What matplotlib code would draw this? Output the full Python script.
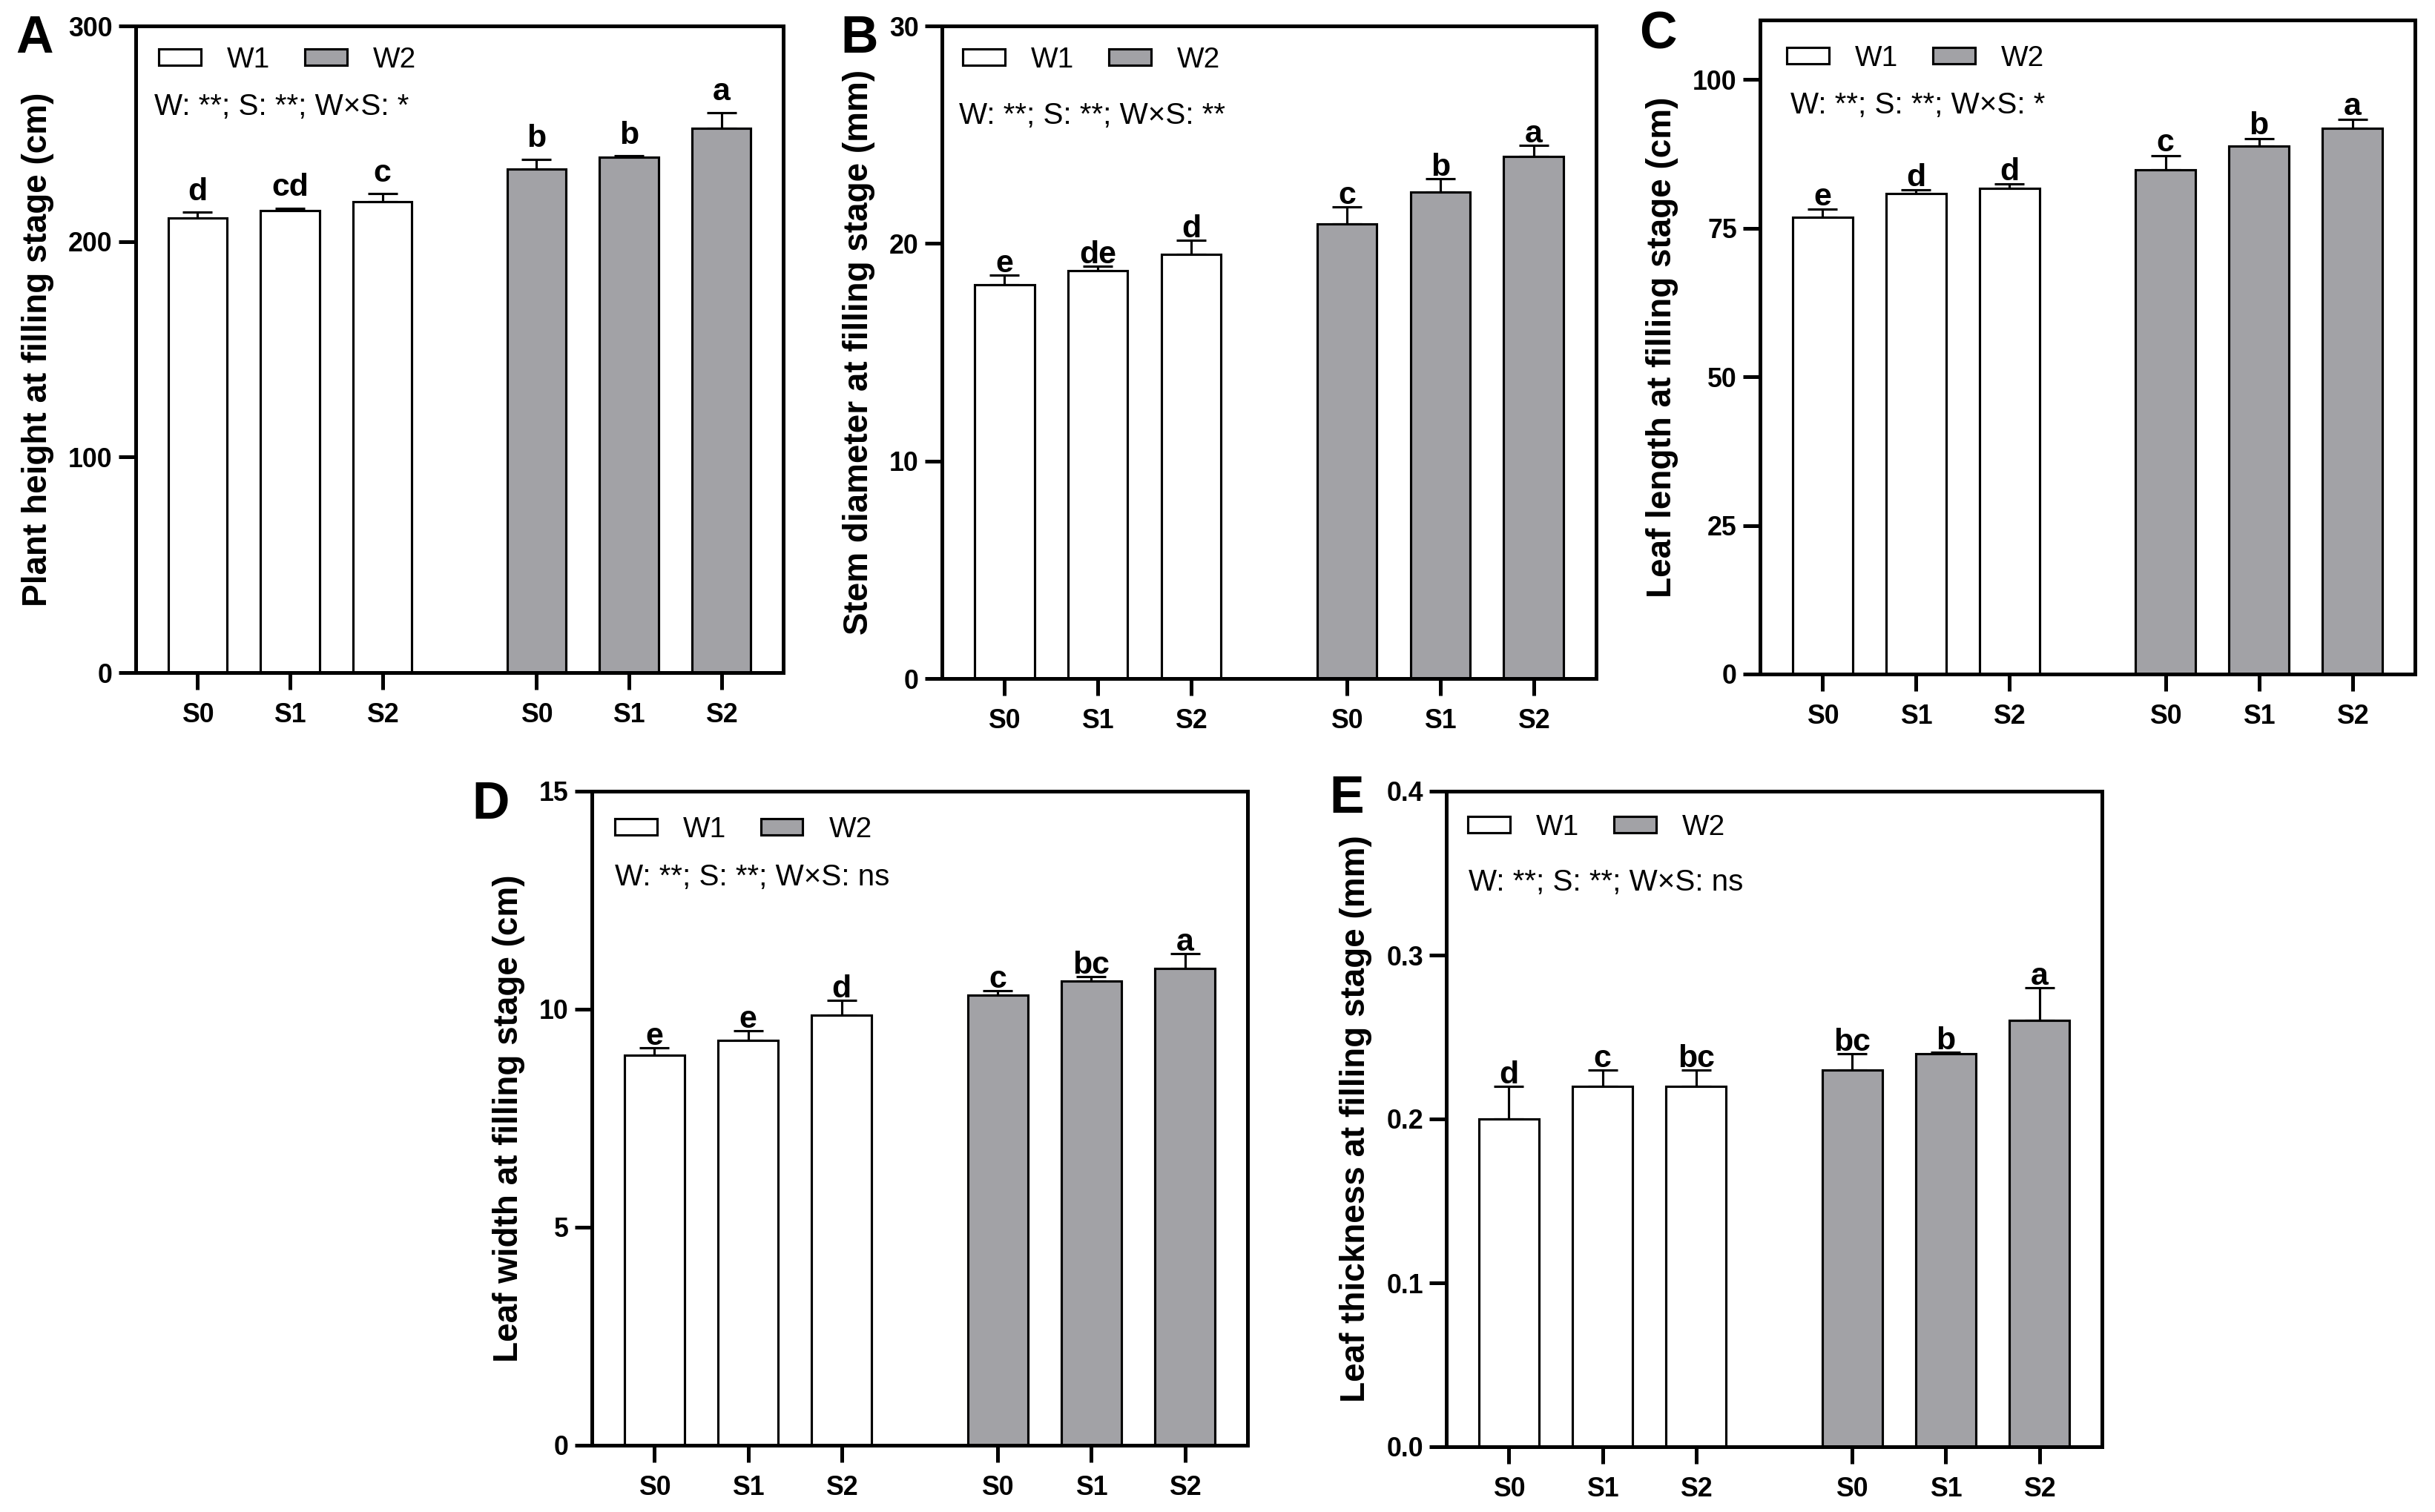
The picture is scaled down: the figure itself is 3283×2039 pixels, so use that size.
import matplotlib
matplotlib.use("Agg")
import matplotlib.pyplot as plt
from matplotlib.patches import Patch
from matplotlib.ticker import FormatStrFormatter

plt.rcParams['font.family'] = ['Liberation Sans', 'DejaVu Sans']

# ---- data ----
groups = ["S0", "S1", "S2", "S0", "S1", "S2"]

height_mean = [211, 214.3, 218.5, 233.7, 239.0, 252.6]
height_err = [2.6, 1.1, 3.7, 4.4, 0.7, 7.2]
height_sig = ["d", "cd", "c", "b", "b", "a"]

stem_mean = [18.1, 18.75, 19.5, 20.9, 22.35, 24.0]
stem_err = [0.45, 0.22, 0.65, 0.78, 0.63, 0.5]
stem_sig = ["e", "de", "d", "c", "b", "a"]

length_mean = [76.8, 80.8, 81.7, 84.8, 88.8, 91.8]
length_err = [1.35, 0.6, 0.7, 2.4, 1.25, 1.5]
length_sig = ["e", "d", "d", "c", "b", "a"]

width_mean = [8.95, 9.28, 9.86, 10.32, 10.64, 10.94]
width_err = [0.17, 0.22, 0.34, 0.11, 0.11, 0.33]
width_sig = ["e", "e", "d", "c", "bc", "a"]

thick_mean = [0.20, 0.22, 0.22, 0.23, 0.24, 0.26]
thick_err = [0.02, 0.01, 0.01, 0.01, 0.0005, 0.02]
thick_sig = ["d", "c", "bc", "bc", "b", "a"]

W, H = 3283, 2039
DPI = 300
gray = "#a2a2a6"
pos = [0, 1, 2, 3.67, 4.67, 5.67]
colors = ["white"] * 3 + [gray] * 3

fig = plt.figure(figsize=(W / DPI, H / DPI), dpi=DPI)


def add_ax(l, r, t, b):
    return fig.add_axes([l / W, 1 - b / H, (r - l) / W, (b - t) / H])


panels = [
    dict(box=(183, 1056, 35, 907), mean=height_mean, err=height_err, sig=height_sig,
         ylabel="Plant height at filling stage (cm)", ylim=(0, 300), yticks=[0, 100, 200, 300],
         stats="W: **; S: **; W×S: *", off=1.8, leg=(0.036, 0.968), txt=(0.029, 0.862)),
    dict(box=(1270, 2152, 35, 915), mean=stem_mean, err=stem_err, sig=stem_sig,
         ylabel="Stem diameter at filling stage (mm)", ylim=(0, 30), yticks=[0, 10, 20, 30],
         stats="W: **; S: **; W×S: **", off=-1.2, leg=(0.032, 0.968), txt=(0.026, 0.85)),
    dict(box=(2373, 3256, 27, 909), mean=length_mean, err=length_err, sig=length_sig,
         ylabel="Leaf length at filling stage (cm)", ylim=(0, 110), yticks=[0, 25, 50, 75, 100],
         stats="W: **; S: **; W×S: *", off=-0.8, leg=(0.041, 0.962), txt=(0.046, 0.857)),
    dict(box=(798, 1682, 1067, 1949), mean=width_mean, err=width_err, sig=width_sig,
         ylabel="Leaf width at filling stage (cm)", ylim=(0, 15), yticks=[0, 5, 10, 15],
         stats="W: **; S: **; W×S: ns", off=-1.2, leg=(0.035, 0.962), txt=(0.035, 0.856)),
    dict(box=(1950, 2834, 1067, 1951), mean=thick_mean, err=thick_err, sig=thick_sig,
         ylabel="Leaf thickness at filling stage (mm)", ylim=(0, 0.4), yticks=[0, 0.1, 0.2, 0.3, 0.4],
         stats="W: **; S: **; W×S: ns", off=-1.2, leg=(0.033, 0.965), txt=(0.034, 0.848)),
]

for p in panels:
    ax = add_ax(*p["box"])
    ax.bar(pos, p["mean"], width=0.64, color=colors, edgecolor="black", linewidth=0.75, zorder=2)
    ax.errorbar(pos, p["mean"], yerr=[[0] * 6, p["err"]], fmt="none", ecolor="black",
                elinewidth=0.75, capsize=4.8, capthick=0.75, zorder=1)
    for x, m, e, s in zip(pos, p["mean"], p["err"], p["sig"]):
        ax.annotate(s, (x, m + e), xytext=(0, p["off"]), textcoords="offset points",
                    ha="center", va="bottom", fontsize=10.3, fontweight="bold")

    ax.set_xlim(-0.67, 6.34)
    ax.set_ylim(*p["ylim"])
    ax.set_yticks(p["yticks"])
    ax.set_xticks(pos)
    ax.set_xticklabels(groups)
    if p["ylim"][1] < 1:
        ax.yaxis.set_major_formatter(FormatStrFormatter("%.1f"))
    ax.set_ylabel(p["ylabel"], fontsize=11, fontweight="bold", labelpad=4.5)

    for sp in ax.spines.values():
        sp.set_linewidth(1.2)
    ax.tick_params(axis="both", direction="out", length=5.5, width=1.2, labelsize=8.6)
    ax.tick_params(axis="y", pad=2)
    ax.tick_params(axis="x", pad=4)
    for lab in ax.get_xticklabels() + ax.get_yticklabels():
        lab.set_fontweight("bold")

    handles = [Patch(facecolor="white", edgecolor="black", linewidth=0.75, label="W1"),
               Patch(facecolor=gray, edgecolor="black", linewidth=0.75, label="W2")]
    ax.legend(handles=handles, ncol=2, loc="upper left", bbox_to_anchor=p["leg"],
              frameon=False, fontsize=9.3, borderpad=0, borderaxespad=0,
              handlelength=1.47, handleheight=0.5, handletextpad=0.9, columnspacing=1.2)
    ax.text(p["txt"][0], p["txt"][1], p["stats"], transform=ax.transAxes,
            fontsize=9.7, ha="left", va="baseline")

for lab, (x, y) in zip("ABCDE", [(21, 71), (1133, 71), (2210, 66), (636, 1104), (1792, 1096)]):
    fig.text(x / W, 1 - y / H, lab, fontsize=16.8, fontweight="bold", ha="left", va="baseline")

fig.savefig("out.png", dpi=DPI)
